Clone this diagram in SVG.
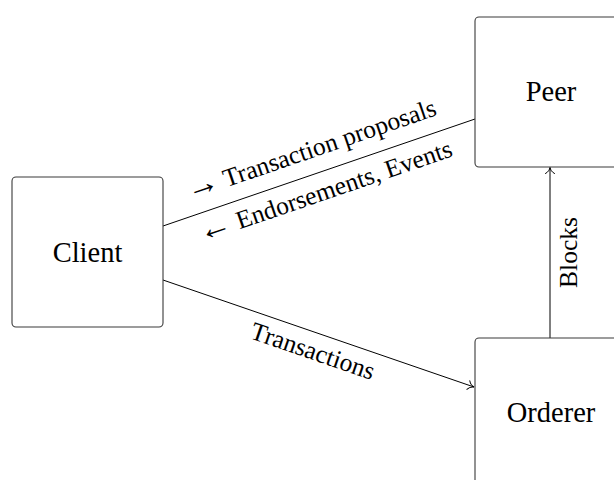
<svg xmlns="http://www.w3.org/2000/svg" width="614" height="480" viewBox="0 0 614 480">
  <style>
    .box { fill: #ffffff; stroke: #3a3a3a; stroke-width: 1.1; }
    text { font-family: 'Liberation Serif', 'Times New Roman', serif; fill: #000; text-anchor: middle; }
    .node-label { font-size: 28.5px; }
    .edge { fill: none; stroke: #000; stroke-width: 1; }
    .edge-label { font-size: 25.5px; }
    .sym { font-size: 33px; }
  </style>
  <defs>
    <marker id="tip" viewBox="-8 -6 10 12" markerWidth="10" markerHeight="12" refX="0" refY="0" orient="auto" markerUnits="userSpaceOnUse">
      <path d="M -6 -4.5 C -4.5 -1.6 -2 -0.4 0 0 C -2 0.4 -4.5 1.6 -6 4.5" fill="none" stroke="#000" stroke-width="1" stroke-linecap="round"/>
    </marker>
  </defs>

  <rect width="614" height="480" fill="#ffffff"/>

  <!-- connectors -->
  <g id="connectors">
    <line class="edge" x1="163" y1="226" x2="475" y2="119"/>
    <line class="edge" x1="163" y1="280" x2="474" y2="387" marker-end="url(#tip)"/>
    <line class="edge" x1="550" y1="338" x2="550" y2="167.5" marker-end="url(#tip)"/>
    <g transform="rotate(-18.93 319 172.5)">
      <text class="edge-label" x="319" y="156.5"><tspan class="sym">→</tspan> Transaction proposals</text>
      <text class="edge-label" x="319" y="200.5"><tspan class="sym">←</tspan> Endorsements, Events</text>
    </g>
    <g transform="rotate(18.93 319 333.5)">
      <text class="edge-label" x="319" y="360.5">Transactions</text>
    </g>
    <g transform="rotate(-90 550 252.5)">
      <text class="edge-label" x="550" y="279.5">Blocks</text>
    </g>
  </g>

  <!-- nodes -->
  <g id="client">
    <rect class="box" x="12" y="177" width="151" height="150" rx="4"/>
    <text class="node-label" x="87.5" y="262">Client</text>
  </g>
  <g id="peer">
    <rect class="box" x="475" y="17" width="152" height="150" rx="4"/>
    <text class="node-label" x="551" y="101">Peer</text>
  </g>
  <g id="orderer">
    <rect class="box" x="475" y="338" width="152" height="150" rx="4"/>
    <text class="node-label" x="551" y="422">Orderer</text>
  </g>
</svg>
